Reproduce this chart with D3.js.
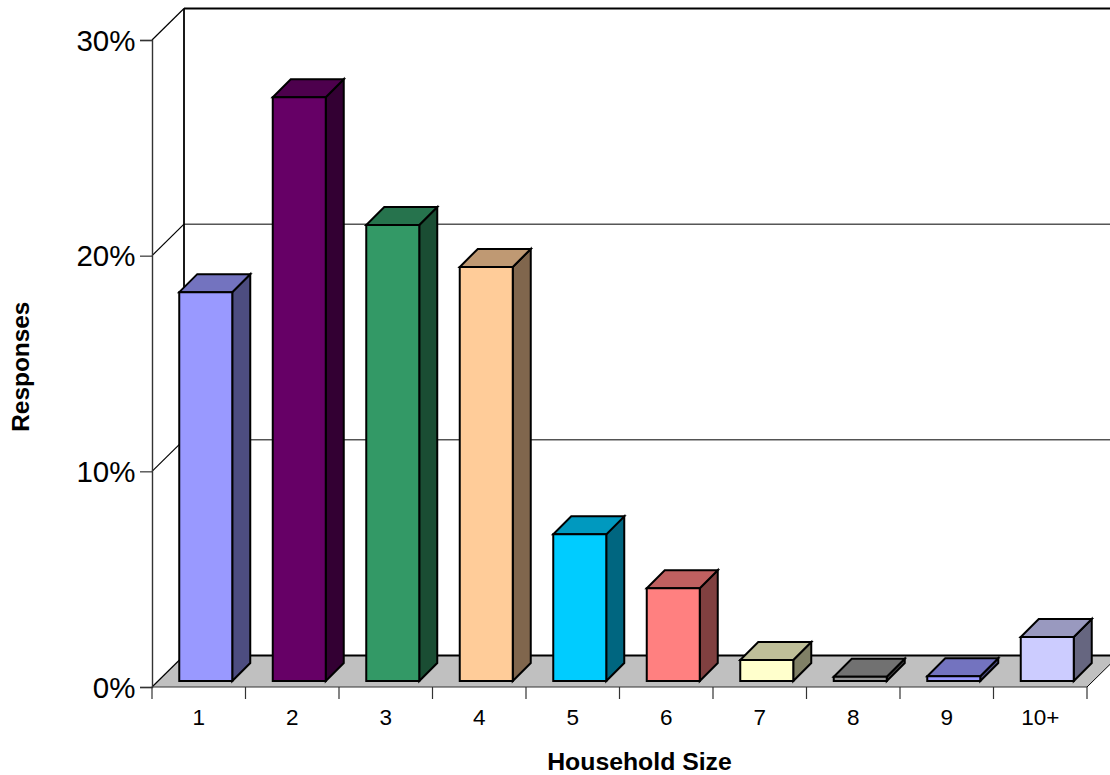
<!DOCTYPE html>
<html>
<head>
<meta charset="utf-8">
<script src="https://cdn.jsdelivr.net/npm/d3@7"></script>
<style>
html,body{margin:0;padding:0;background:#fff;overflow:hidden}
svg{display:block}
text{font-family:"Liberation Sans",Arial,sans-serif;fill:#000}
</style>
</head>
<body>
<svg id="chart" width="1110" height="775"></svg>
<script>
// Household size survey responses, as percent of all responses
const categories = ["1","2","3","4","5","6","7","8","9","10+"];
const responses = [18.03,27.07,21.14,19.2,6.8,4.3,0.97,0.2,0.22,2.04];
const barColors = ["#9999FF","#660066","#339966","#FFCC99","#00CCFF","#FF8080","#FFFFCC","#969696","#9999FF","#CCCCFF"];
const yTicks = [0,10,20,30];
const xTitle = "Household Size";
const yTitle = "Responses";

const plotLeft = 152, plotRight = 1087, plotBottom = 687, plotTop = 40;
const depthX = 32, depthY = 31.5;   // oblique offset of the back wall
const barInsetX = 7, barInsetY = 6; // gap between the front edge of the floor and the bars
const barDepth = 18;
const barWidth = 53;

const svg = d3.select("#chart");
const x = d3.scaleBand().domain(categories).range([plotLeft, plotRight]).paddingInner(0).paddingOuter(0);
const y = d3.scaleLinear().domain([0, 30]).range([plotBottom, plotTop]);
const pts = a => a.map(p => p.join(",")).join(" ");

// Floor, clipped by the page on the right
svg.append("polygon")
  .attr("points", pts([[plotLeft,plotBottom],[plotRight,plotBottom],[plotRight+depthX,plotBottom-depthY],[plotLeft+depthX,plotBottom-depthY]]))
  .attr("fill", "#C0C0C0");

// Back wall: outline and gridlines
const walls = svg.append("g").attr("fill","none").attr("stroke","#000");
yTicks.forEach(t => {
  const yy = y(t);
  walls.append("line").attr("x1",plotLeft+depthX).attr("x2",plotRight+depthX)
    .attr("y1",yy-depthY).attr("y2",yy-depthY)
    .attr("stroke-width", t === 0 || t === 30 ? 1.8 : 1);
  walls.append("line").attr("x1",plotLeft).attr("y1",yy).attr("x2",plotLeft+depthX).attr("y2",yy-depthY)
    .attr("stroke-width", 1.2);
});
walls.append("line").attr("x1",plotLeft+depthX).attr("x2",plotLeft+depthX)
  .attr("y1",y(30)-depthY).attr("y2",y(0)-depthY).attr("stroke-width",1.8);
walls.append("line").attr("x1",plotRight).attr("y1",plotBottom).attr("x2",plotRight+depthX).attr("y2",plotBottom-depthY).attr("stroke-width",1);

// Axes
const yAxis = d3.axisLeft(y).tickValues(yTicks).tickSize(12).tickPadding(4.5).tickFormat(d => d + "%");
const yG = svg.append("g").attr("transform",`translate(${plotLeft},0)`).call(yAxis);
yG.select(".domain").attr("stroke","#333").attr("stroke-width",1.4);
yG.selectAll("line").attr("stroke","#333").attr("stroke-width",1.2);
yG.selectAll("text").attr("font-size",29.5).attr("font-family",'"Liberation Sans",Arial,sans-serif').attr("dy","0.34em");

const xAxis = d3.axisBottom(x).tickSize(0).tickPadding(24);
const xG = svg.append("g").attr("transform",`translate(0,${plotBottom})`).call(xAxis);
xG.select(".domain").remove();
xG.selectAll("text").attr("font-size",22.5).attr("font-family",'"Liberation Sans",Arial,sans-serif')
  .attr("dy","0.62em");

// Category dividers sit between the bands
const edges = categories.map(c => x(c)).concat(plotRight);
svg.append("g").selectAll("line").data(edges).join("line")
  .attr("x1",d=>d).attr("x2",d=>d).attr("y1",plotBottom).attr("y2",plotBottom+12)
  .attr("stroke","#333").attr("stroke-width",1.2);
svg.append("line").attr("x1",plotLeft).attr("x2",plotRight).attr("y1",plotBottom).attr("y2",plotBottom)
  .attr("stroke","#333").attr("stroke-width",1.2);

// Bars: front face with oblique top and side
const shade = (c,k) => { const q = d3.rgb(c); return d3.rgb(q.r*k,q.g*k,q.b*k).formatHex(); };
const rows = categories.map((c,i) => ({c, v: responses[i], col: barColors[i]}));
const bars = svg.append("g").selectAll("g").data(rows).join("g")
  .attr("stroke","#000").attr("stroke-width",2).attr("stroke-linejoin","miter");
const geom = d => {
  const x0 = x(d.c) + (x.bandwidth()-barWidth)/2 + barInsetX;
  const x1 = x0 + barWidth;
  const y0 = y(0) - barInsetY;
  const y1 = y(d.v) - barInsetY;
  return {x0,x1,y0,y1};
};
bars.append("polygon").attr("fill",d=>shade(d.col,0.5)).attr("points",d=>{
  const g = geom(d);
  return pts([[g.x1,g.y0],[g.x1,g.y1],[g.x1+barDepth,g.y1-barDepth],[g.x1+barDepth,g.y0-barDepth]]);
});
bars.append("polygon").attr("fill",d=>shade(d.col,0.75)).attr("points",d=>{
  const g = geom(d);
  return pts([[g.x0,g.y1],[g.x1,g.y1],[g.x1+barDepth,g.y1-barDepth],[g.x0+barDepth,g.y1-barDepth]]);
});
bars.append("polygon").attr("fill",d=>d.col).attr("points",d=>{
  const g = geom(d);
  return pts([[g.x0,g.y0],[g.x1,g.y0],[g.x1,g.y1],[g.x0,g.y1]]);
});

// Axis titles
svg.append("text").attr("x",639.5).attr("y",769.7).attr("text-anchor","middle")
  .attr("font-size",24.8).attr("font-weight","bold").text(xTitle);
svg.append("text").attr("transform","translate(29.3,366.7) rotate(-90)").attr("text-anchor","middle")
  .attr("font-size",24.4).attr("font-weight","bold").text(yTitle);
</script>
</body>
</html>
